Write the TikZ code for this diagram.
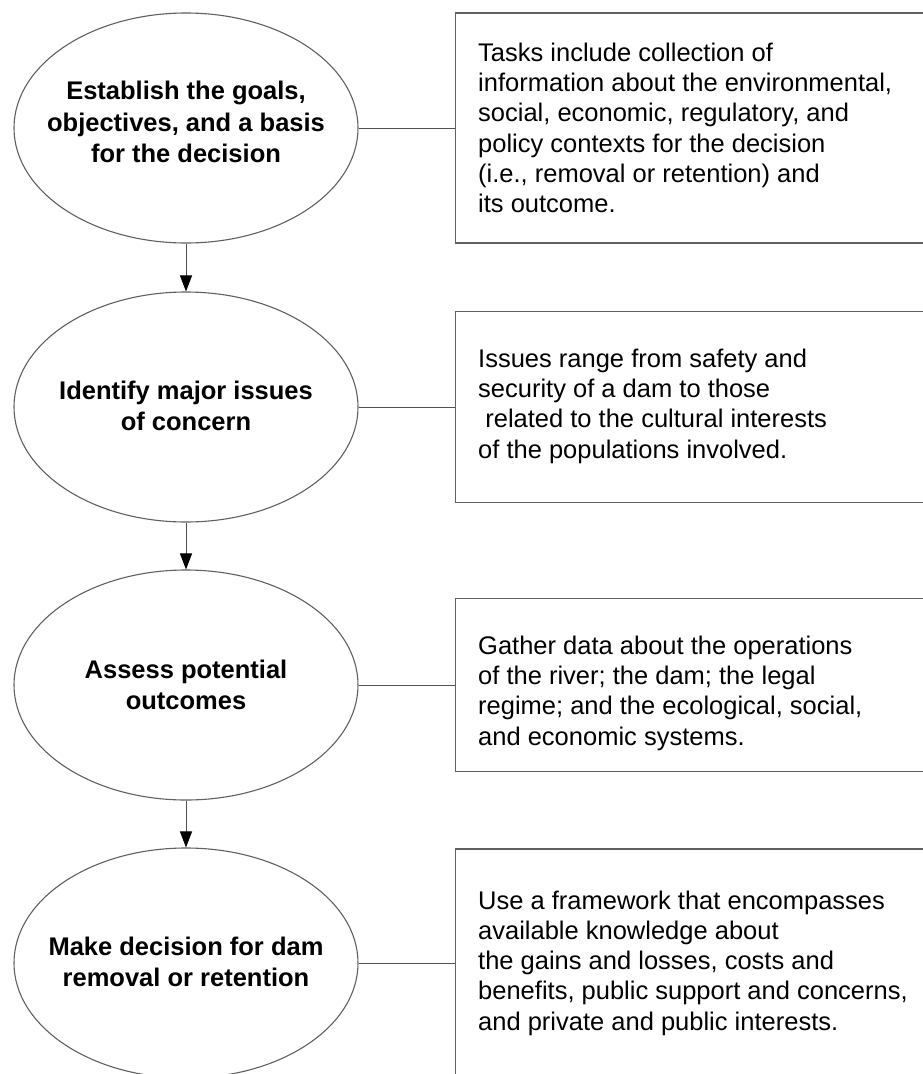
\documentclass[tikz,border=0pt]{standalone}
\usepackage{fontspec}
\setmainfont{Liberation Sans}
\usetikzlibrary{shapes.geometric,arrows.meta}
\definecolor{edge}{HTML}{606060}
\definecolor{conn}{HTML}{505050}
\tikzset{
  stage/.style={ellipse, draw=edge, line width=1.1pt, inner sep=0pt,
    minimum width=344pt, minimum height=230pt},
  stagetext/.style={inner sep=0pt, align=center,
    font=\fontsize{25.5}{31.5}\selectfont\bfseries},
  note/.style={rectangle, draw=edge, line width=1.1pt, anchor=west,
    inner sep=0pt, minimum width=520pt},
  notetext/.style={anchor=west, inner sep=0pt, align=left,
    font=\fontsize{25.5}{30.3}\selectfont},
  link/.style={draw=conn, line width=1pt},
  flow/.style={draw=conn, line width=1pt, -{Triangle[length=16pt,width=12pt,color=black]}}
}
\begin{document}
\begin{tikzpicture}[x=1pt,y=-1pt]
\useasboundingbox (0,0) rectangle (923,1074);

\node[stage] (e1) at (186,128) {};
\node[stage] (e2) at (186,407) {};
\node[stage] (e3) at (186,685) {};
\node[stage] (e4) at (186,963) {};
\node[stagetext] (t1) at (186,122) {Establish the goals,\\objectives, and a basis\\for the decision};
\node[stagetext] (t2) at (186,406) {Identify major issues\\of concern};
\node[stagetext] (t3) at (186,685) {Assess potential\\outcomes};
\node[stagetext] (t4) at (186,962) {Make decision for dam\\removal or retention};

\node[note, minimum height=230pt] (b1) at (455,128) {};
\node[note, minimum height=191pt] (b2) at (455,407) {};
\node[note, minimum height=173pt] (b3) at (455,685) {};
\node[note, minimum height=240pt] (b4) at (455,969) {};

\node[notetext] (n1) at (478,128) {Tasks include collection of\\information about the environmental,\\social, economic, regulatory, and\\policy contexts for the decision\\(i.e., removal or retention) and\\its outcome.};
\node[notetext] (n2) at (478,406) {Issues range from safety and\\security of a dam to those\\\hspace*{0.28em}related to the cultural interests\\of the populations involved.};
\node[notetext] (n3) at (478,693) {Gather data about the operations\\of the river; the dam; the legal\\regime; and the ecological, social,\\and economic systems.};
\node[notetext] (n4) at (478,963) {Use a framework that encompasses\\available knowledge about\\the gains and losses, costs and\\benefits, public support and concerns,\\and private and public interests.};

\draw[link] (e1.east) -- (e1.east -| b1.west);
\draw[link] (e2.east) -- (e2.east -| b2.west);
\draw[link] (e3.east) -- (e3.east -| b3.west);
\draw[link] (e4.east) -- (e4.east -| b4.west);

\draw[flow] (e1.south) -- (e2.north);
\draw[flow] (e2.south) -- (e3.north);
\draw[flow] (e3.south) -- (e4.north);
\end{tikzpicture}
\end{document}
